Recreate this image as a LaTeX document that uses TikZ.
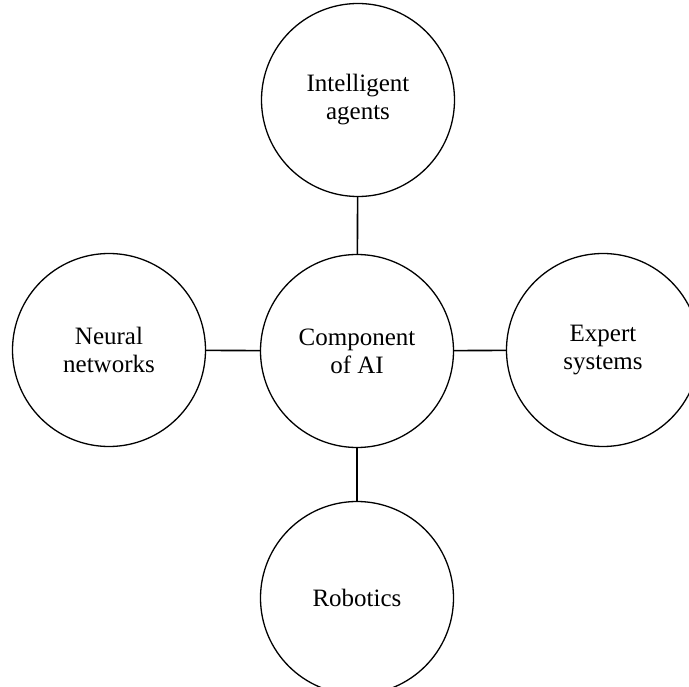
\documentclass[tikz,border=0pt]{standalone}
\usepackage{fontspec}
\setmainfont{Liberation Serif}
\begin{document}
\begin{tikzpicture}[x=1pt,y=-1pt,
  topic/.style={circle, draw=black, line width=1.3pt, minimum size=193pt,
    inner sep=0pt, align=center, font=\fontsize{25}{28}\selectfont},
  link/.style={draw=black, line width=1.6pt}]
  \useasboundingbox (0,0) rectangle (689,687);
  % central topic and its four components
  \node[topic] (core)   at (357,351) {Component\\of AI};
  \node[topic] (agents) at (358,100) {Intelligent\\agents};
  \node[topic] (neural) at (109,350) {Neural\\networks};
  \node[topic] (expert) at (603,350) {Expert\\systems};
  \node[topic] (robot)  at (357,598) {Robotics};
  % spokes
  \draw[link] (core) -- (agents);
  \draw[link] (core) -- (neural);
  \draw[link] (core) -- (expert);
  \draw[link] (core) -- (robot);
\end{tikzpicture}
\end{document}
